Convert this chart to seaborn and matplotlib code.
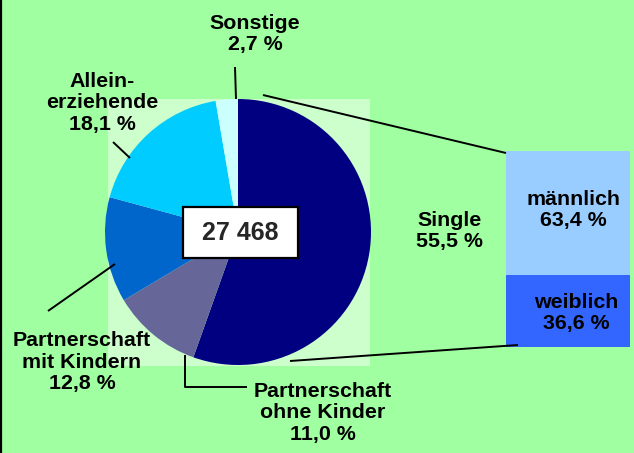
import matplotlib
matplotlib.use("Agg")
import matplotlib.pyplot as plt
from matplotlib.patches import Rectangle
import seaborn as sns
import pandas as pd

# Haushaltsformen (Anteile in %)
categories = ["Single", "Partnerschaft\nohne Kinder", "Partnerschaft\nmit Kindern",
              "Allein-\nerziehende", "Sonstige"]
shares = [55.5, 11.0, 12.8, 18.1, 2.7]
total_label = "27 468"

# Aufteilung der Singles nach Geschlecht (%)
gender = ["weiblich", "männlich"]
gender_shares = [36.6, 63.4]

def fmt(v):
    return f"{v:.1f}".replace(".", ",") + " %"

sns.set_theme(style="white")
plt.rcParams["font.family"] = ["Liberation Sans", "DejaVu Sans"]

W, H = 634, 453
fig = plt.figure(figsize=(W / 100, H / 100), dpi=100)
bg = "#A0FFA0"
fig.patch.set_facecolor(bg)

# gestapelter Balken der Singles (unterste Ebene)
bx = fig.add_axes([506 / W, (H - 347) / H, 124 / W, 196 / H])
bx.set_zorder(1)
df = pd.DataFrame({"g": ["Singles"], "w": [gender_shares[0]],
                   "top": [gender_shares[0] + gender_shares[1]]})
sns.barplot(data=df, x="g", y="top", color="#99CCFF", saturation=1, width=1.0,
            ax=bx, linewidth=0)
sns.barplot(data=df, x="g", y="w", color="#3366FF", saturation=1, width=1.0,
            ax=bx, linewidth=0)
bx.set_xlim(-0.5, 0.5)
bx.set_ylim(0, 100)
bx.axis("off")

# Hauptebene in Pixelkoordinaten
ax = fig.add_axes([0, 0, 1, 1])
ax.set_zorder(2)
ax.patch.set_visible(False)

# helle Fläche hinter dem Kreis
ax.add_patch(Rectangle((108, 99), 262, 267, facecolor="#CCFFCC", edgecolor="none", zorder=1))

pie_colors = ["#000080", "#666699", "#0066CC", "#00CCFF", "#CCFFFF"]
ax.pie(shares, colors=pie_colors, startangle=-90, counterclock=True,
       center=(238, 232), radius=133, frame=True,
       wedgeprops=dict(linewidth=0, zorder=2))
ax.set_xlim(0, W)
ax.set_ylim(H, 0)
ax.set_aspect("equal")
ax.axis("off")

txt = dict(ha="center", va="center", fontsize=15.4, fontweight="bold",
           color="black", linespacing=1.17, multialignment="center")

# Beschriftungen der Segmente
ax.text(255, 34, f"{categories[4]}\n{fmt(shares[4])}", **txt)
ax.text(102, 103, f"{categories[3]}\n{fmt(shares[3])}", **txt)
ax.text(82, 362, f"{categories[2]}\n{fmt(shares[2])}", **txt)
ax.text(323, 413, f"{categories[1]}\n{fmt(shares[1])}", **txt)
ax.text(450, 231, f"{categories[0]}\n{fmt(shares[0])}", **txt)

line = dict(color="black", lw=1.4, solid_capstyle="butt", zorder=4)
ax.plot([235, 236], [67, 99], **line)
ax.plot([113, 130], [142, 158], **line)
ax.plot([48, 115], [311, 264], **line)
ax.plot([185, 185, 247], [355, 387, 387], **line)

# Verbindungslinien zum Balken
ax.plot([263, 506], [95, 153], **line)
ax.plot([290, 518], [361, 345], **line)

# Gesamtzahl
ax.add_patch(Rectangle((183, 207), 115, 51, facecolor="white", edgecolor="black",
                       linewidth=1.6, zorder=5))
ax.text(240.5, 233, total_label, ha="center", va="center", fontsize=18,
        fontweight="bold", zorder=6)

# linker Rand
ax.plot([1, 1], [0, H], color="black", lw=1.6, zorder=6)

# Beschriftungen im Balken
ax.text(573, 210, f"{gender[1]}\n{fmt(gender_shares[1])}", **txt)
ax.text(576, 313, f"{gender[0]}\n{fmt(gender_shares[0])}", **txt)

fig.savefig("out.png", dpi=100, facecolor=bg)
